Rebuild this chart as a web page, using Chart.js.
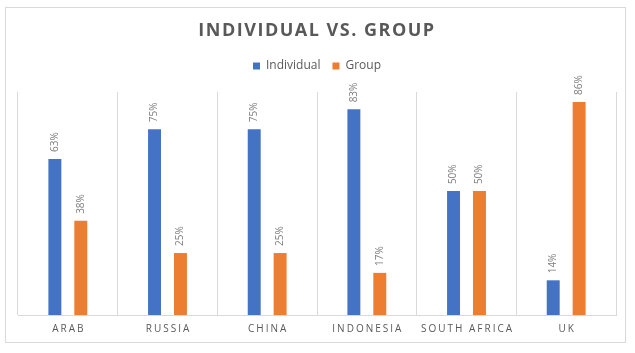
<!DOCTYPE html>
<html>
<head>
<meta charset="utf-8">
<script src="https://cdn.jsdelivr.net/npm/chart.js@4.4.1/dist/chart.umd.min.js"></script>
<style>
  html, body { margin: 0; padding: 0; background: #fff; }
  #wrap { position: relative; width: 635px; height: 353px; }
</style>
</head>
<body>
<div id="wrap"><canvas id="chart" width="635" height="353"></canvas></div>
<script>
const PAISES = ["ARAB", "RUSSIA", "CHINA", "INDONESIA", "SOUTH AFRICA", "UK"]
const INDIVIDUAL = [0.63, 0.75, 0.75, 0.83, 0.50, 0.14]
const GROUP = [0.38, 0.25, 0.25, 0.17, 0.50, 0.86]
const TITULO = "INDIVIDUAL VS. GROUP"
const GRIS = "#595959"

// borde del grafico, titulo, etiquetas de eje y de valores
const extras = {
    id: "extras",
    beforeInit(chart) {
        let fit = chart.legend.fit
        chart.legend.fit = function () {
            fit.bind(chart.legend)()
            this.height += 10
        }
    },
    beforeDraw(chart) {
        let ctx = chart.ctx
        ctx.save()
        ctx.strokeStyle = "#d9d9d9"
        ctx.lineWidth = 1
        ctx.strokeRect(5.5, 7.5, 620, 335)
        ctx.fillStyle = GRIS
        ctx.font = "bold 18px 'Open Sans'"
        ctx.letterSpacing = "1.5px"
        ctx.textAlign = "center"
        ctx.textBaseline = "middle"
        ctx.fillText(TITULO, 317, 31)
        ctx.restore()
    },
    afterDatasetsDraw(chart) {
        let ctx = chart.ctx
        let x = chart.scales.x
        ctx.save()
        ctx.fillStyle = GRIS
        ctx.font = "10px 'Open Sans'"
        ctx.letterSpacing = "2px"
        ctx.textAlign = "center"
        ctx.textBaseline = "middle"
        PAISES.forEach((p, i) => {
            ctx.fillText(p, x.getPixelForValue(i) + 1, 329)
        })
        ctx.letterSpacing = "0px"
        ctx.fillStyle = "#7f7f7f"
        chart.data.datasets.forEach((ds, d) => {
            let meta = chart.getDatasetMeta(d)
            meta.data.forEach((bar, i) => {
                ctx.save()
                ctx.translate(bar.x, bar.y - 7)
                ctx.rotate(-Math.PI / 2)
                ctx.textAlign = "left"
                ctx.textBaseline = "middle"
                ctx.fillText(Math.round(ds.data[i] * 100) + "%", 0, 0)
                ctx.restore()
            })
        })
        ctx.restore()
    }
}

var ctx = document.getElementById("chart").getContext("2d")
var grafico = new Chart(ctx, {
    type: "bar",
    data: {
        labels: PAISES,
        datasets: [
            { label: "Individual", data: INDIVIDUAL, backgroundColor: "#4472C4" },
            { label: "Group", data: GROUP, backgroundColor: "#ED7D31" }
        ]
    },
    options: {
        responsive: false,
        animation: false,
        categoryPercentage: 0.52,
        barPercentage: 0.5,
        layout: { padding: { top: 48, left: 18, right: 19, bottom: 38 } },
        plugins: {
            legend: {
                position: "top",
                labels: {
                    color: GRIS,
                    boxWidth: 7,
                    boxHeight: 7,
                    padding: 12,
                    font: { family: "'Open Sans'", size: 12 }
                }
            },
            tooltip: { enabled: false }
        },
        scales: {
            x: {
                grid: { color: "#d9d9d9", offset: true, drawTicks: false },
                border: { color: "#d9d9d9" },
                ticks: { display: false }
            },
            y: {
                display: false,
                min: 0,
                max: 0.9
            }
        }
    },
    plugins: [extras]
})
</script>
</body>
</html>
